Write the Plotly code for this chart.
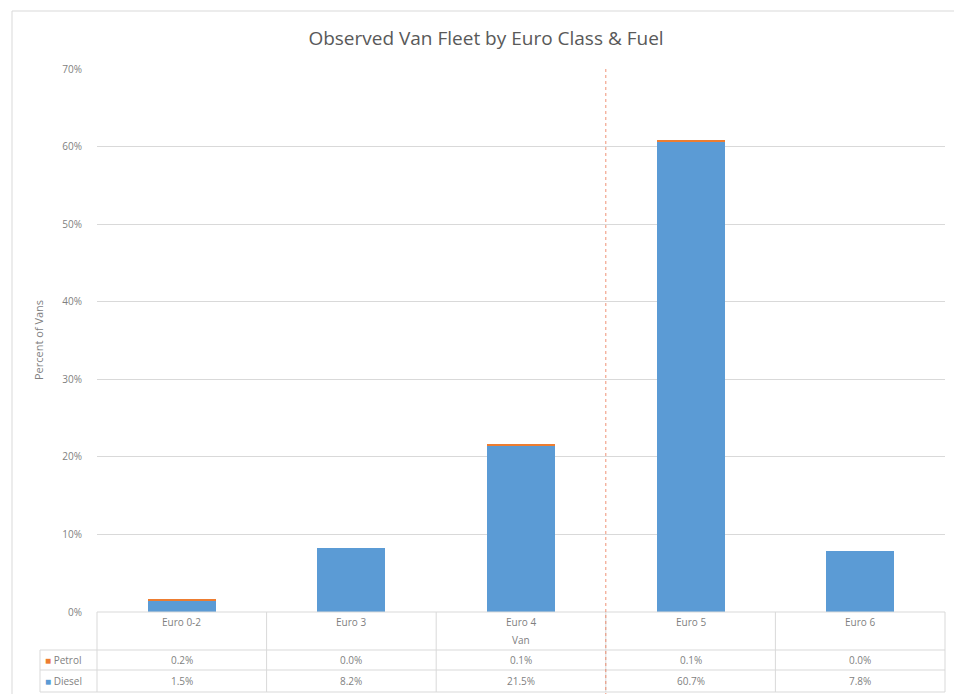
import plotly.graph_objects as go

categories = ["Euro 0-2", "Euro 3", "Euro 4", "Euro 5", "Euro 6"]
petrol = [0.2, 0.0, 0.1, 0.1, 0.0]
diesel = [1.5, 8.2, 21.5, 60.7, 7.8]
y_ticks = [0, 10, 20, 30, 40, 50, 60, 70]
x_title = "Van"
y_title = "Percent of Vans"
title = "Observed Van Fleet by Euro Class & Fuel"

W, H = 954, 694
L, R, T, B = 97, 9, 69, 82
PW = W - L - R
PH = H - T - B

def px(xp):
    return (xp - L) / PW

def py(yp):
    return (H - B - yp) / PH

FONT = "Open Sans"
GRID = "#D9D9D9"
TXT = "#7F7F7F"
BLUE = "#5B9BD5"
ORANGE = "#ED7D31"

fig = go.Figure()
fig.add_trace(go.Bar(x=categories, y=[d / 100 for d in diesel], name="Diesel",
                     marker=dict(color=BLUE, line=dict(width=0)), width=0.4))
fig.add_trace(go.Bar(x=categories, y=[p / 100 for p in petrol], name="Petrol",
                     marker=dict(color=ORANGE, line=dict(width=0)), width=0.4))

shapes = []
def line(x0, y0, x1, y1, xref="paper", color=GRID, width=1, dash=None):
    d = dict(type="line", xref=xref, yref="paper", x0=x0, y0=y0, x1=x1, y1=y1,
             line=dict(color=color, width=width), layer="above")
    if dash:
        d["line"]["dash"] = dash
    shapes.append(d)

# outer chart border
line(px(12), py(11), px(W + 5), py(11))
line(px(12), py(11), px(12), py(H + 5))

# table
line(0, py(612), 1, py(612))
line(px(40), py(650), 1, py(650))
line(px(40), py(670), 1, py(670))
line(px(40), py(692), 1, py(692))
line(0, py(612), 0, py(692))
line(1, py(612), 1, py(692))
line(px(40), py(650), px(40), py(692))
for i in range(len(categories) - 1):
    line(i + 0.5, py(612), i + 0.5, py(692), xref="x")

# red dotted divider between Euro 4 and Euro 5
line(2.5, 1.0, 2.5, py(H + 5), xref="x", color="rgba(235,120,85,0.8)", width=1, dash="dot")

annotations = []
for i, c in enumerate(categories):
    annotations.append(dict(x=c, y=py(622), xref="x", yref="paper", text=c, showarrow=False,
                            font=dict(family=FONT, size=10, color=TXT), yanchor="middle"))
    annotations.append(dict(x=c, y=py(660), xref="x", yref="paper", text=f"{petrol[i]:.1f}%",
                            showarrow=False, font=dict(family=FONT, size=10, color=TXT), yanchor="middle"))
    annotations.append(dict(x=c, y=py(681), xref="x", yref="paper", text=f"{diesel[i]:.1f}%",
                            showarrow=False, font=dict(family=FONT, size=10, color=TXT), yanchor="middle"))
annotations.append(dict(x=0.5, y=py(640), xref="paper", yref="paper", text=x_title, showarrow=False,
                        font=dict(family=FONT, size=10, color=TXT), yanchor="middle"))
annotations.append(dict(x=px(43), y=py(660), xref="paper", yref="paper", xanchor="left", yanchor="middle",
                        text=f"<span style='color:{ORANGE};font-size:10px'>■</span> Petrol", showarrow=False,
                        font=dict(family=FONT, size=10, color=TXT)))
annotations.append(dict(x=px(43), y=py(681), xref="paper", yref="paper", xanchor="left", yanchor="middle",
                        text=f"<span style='color:{BLUE};font-size:10px'>■</span> Diesel", showarrow=False,
                        font=dict(family=FONT, size=10, color=TXT)))
annotations.append(dict(x=px(39), y=py(340), xref="paper", yref="paper", text=y_title, textangle=-90,
                        showarrow=False, font=dict(family=FONT, size=11, color=TXT),
                        xanchor="center", yanchor="middle"))

fig.update_layout(
    width=W, height=H,
    margin=dict(l=L, r=R, t=T, b=B, pad=0),
    paper_bgcolor="white", plot_bgcolor="white",
    barmode="stack", showlegend=False,
    title=dict(text=title, x=486 / W, xanchor="center", y=1 - 38 / H, yanchor="middle",
               font=dict(family=FONT, size=19, color="#595959")),
    xaxis=dict(showticklabels=False, showgrid=False, zeroline=False, showline=False,
               ticks="", range=[-0.5, 4.5]),
    yaxis=dict(range=[0, 0.7], tickvals=[t / 100 for t in y_ticks],
               ticktext=[f"{t}%" for t in y_ticks], showgrid=True, gridcolor=GRID, gridwidth=1,
               zeroline=False, showline=False, ticks="", ticklabelstandoff=14,
               tickfont=dict(family=FONT, size=10, color=TXT)),
    shapes=shapes, annotations=annotations,
    font=dict(family=FONT),
)

fig.write_html("out.html")
